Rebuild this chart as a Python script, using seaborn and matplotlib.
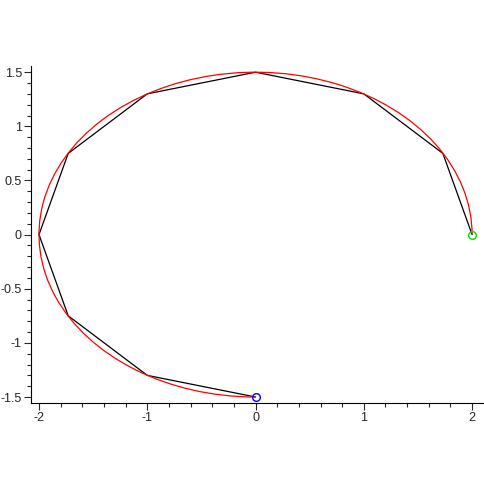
import numpy as np
import pandas as pd
import matplotlib
matplotlib.use("Agg")
import matplotlib.pyplot as plt
from matplotlib.patches import Arc
from matplotlib.ticker import MultipleLocator, FuncFormatter
import seaborn as sns

# vertici della spezzata
poly_x = [2.0, 1.73, 1.0, 0.0, -1.0, -1.73, -2.0, -1.73, -1.0, 0.0]
poly_y = [0.0, 0.75, 1.3, 1.5, 1.3, 0.75, 0.0, -0.75, -1.3, -1.5]

# arco di ellisse (semiassi, angoli in gradi)
semi_a = 2.0
semi_b = 1.5
arc_start = 0
arc_end = 270

# punti iniziale / finale
start_pt = (2.0, 0.0)
end_pt = (0.0, -1.5)

sns.set_style("white")
plt.rcParams["font.family"] = ["Liberation Sans", "DejaVu Sans"]
plt.rcParams["axes.unicode_minus"] = False

df = pd.DataFrame({"x": poly_x, "y": poly_y})

fig = plt.figure(figsize=(4.84, 4.84), dpi=100)
ax = fig.add_axes([0.064, 0.167, 0.936, 0.697])

sns.lineplot(data=df, x="x", y="y", sort=False, estimator=None,
             color="black", lw=0.9, ax=ax)
ax.add_patch(Arc((0, 0), 2 * semi_a, 2 * semi_b, theta1=arc_start,
                 theta2=arc_end, color="red", lw=0.9, zorder=3))
ax.plot(*start_pt, "o", mfc="none", mec="#00e000", ms=5.5, mew=1, zorder=4)
ax.plot(*end_pt, "o", mfc="none", mec="blue", ms=5.5, mew=1, zorder=4)

ax.set_xlim(-2.074, 2.11)
ax.set_ylim(-1.555, 1.557)
ax.set_aspect("equal", adjustable="box")
ax.set_xlabel("")
ax.set_ylabel("")

ax.xaxis.set_major_locator(MultipleLocator(1))
ax.xaxis.set_minor_locator(MultipleLocator(0.2))
ax.yaxis.set_major_locator(MultipleLocator(0.5))
ax.yaxis.set_minor_locator(MultipleLocator(0.1))
fmt = FuncFormatter(lambda v, p: "%g" % (0 if abs(v) < 1e-9 else v))
ax.xaxis.set_major_formatter(fmt)
ax.yaxis.set_major_formatter(fmt)
ax.tick_params(which="major", direction="out", length=5, width=0.8,
               labelsize=9, bottom=True, left=True, pad=1.5)
ax.tick_params(which="minor", direction="out", length=3, width=0.8,
               bottom=True, left=True)

sns.despine(ax=ax)
for s in ("left", "bottom"):
    ax.spines[s].set_color("black")
    ax.spines[s].set_linewidth(0.8)

fig.savefig("out.png", dpi=100)
